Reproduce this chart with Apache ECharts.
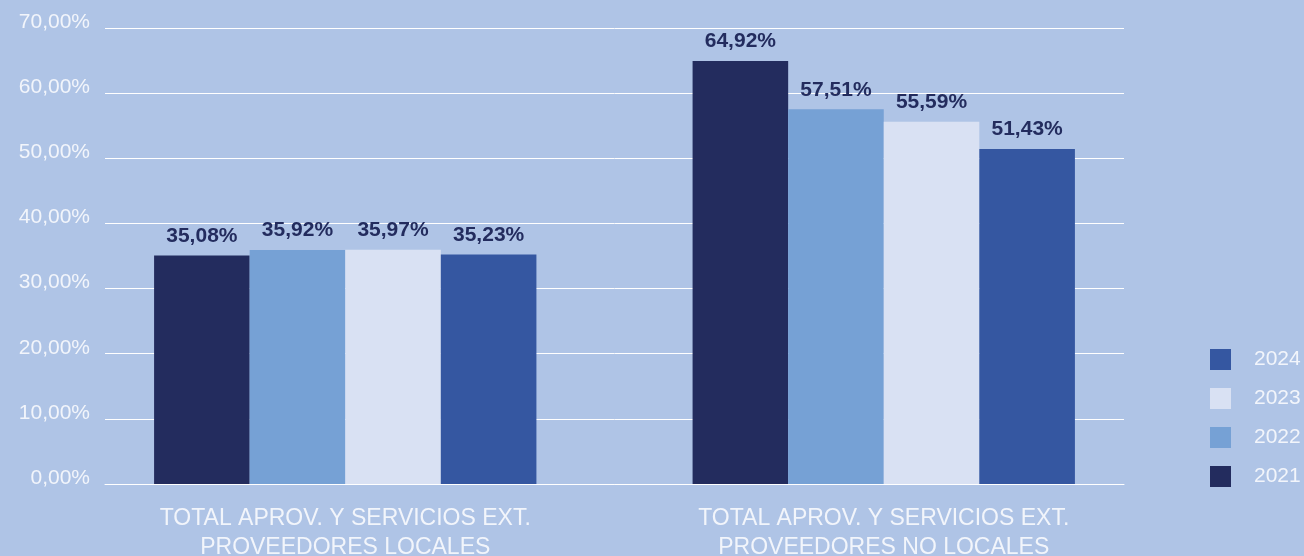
<!DOCTYPE html>
<html>
<head>
<meta charset="utf-8">
<script src="https://cdn.jsdelivr.net/npm/echarts@6/dist/echarts.min.js"></script>
<style>
html,body{margin:0;padding:0;background:#afc4e6;}
#chart{width:1304px;height:556px;}
</style>
</head>
<body>
<div id="chart"></div>
<script>
const categories = ["TOTAL APROV. Y SERVICIOS EXT.\nPROVEEDORES LOCALES", "TOTAL APROV. Y SERVICIOS EXT.\nPROVEEDORES NO LOCALES"];
const years = ["2021", "2022", "2023", "2024"];
const values2021 = [35.08, 64.92];
const values2022 = [35.92, 57.51];
const values2023 = [35.97, 55.59];
const values2024 = [35.23, 51.43];
const legendOrder = ["2024", "2023", "2022", "2021"];
const colors = {"2021": "#232c5e", "2022": "#76a1d5", "2023": "#d9e1f3", "2024": "#3557a1"};

const seriesValues = [values2021, values2022, values2023, values2024];
const fmt = v => v.toFixed(2).replace('.', ',') + '%';
const FONT = "'Liberation Sans', Arial, Helvetica, sans-serif";

const chart = echarts.init(document.getElementById('chart'));
chart.setOption({
  backgroundColor: '#afc4e6',
  animation: false,
  textStyle: {fontFamily: FONT},
  grid: [
    {left: 105, right: 180, top: 28, bottom: 72, containLabel: false, outerBoundsMode: 'none'},
    {left: 76, right: 151, top: 28, bottom: 72, containLabel: false, outerBoundsMode: 'none'}
  ],
  xAxis: [
    {gridIndex: 0, type: 'category', data: ['', ''], axisLine: {show: true, lineStyle: {color: '#ffffff', width: 1}},
     axisTick: {show: false}, axisLabel: {show: false}},
    {gridIndex: 1, type: 'category', data: categories, axisLine: {show: false}, axisTick: {show: false},
     axisLabel: {color: '#f2f5fb', fontSize: 23, lineHeight: 29, margin: 20, fontFamily: FONT}}
  ],
  yAxis: [
    {gridIndex: 0, type: 'value', min: 0, max: 70, interval: 10,
     axisLine: {show: false}, axisTick: {show: false},
     splitLine: {show: true, lineStyle: {color: '#ffffff', width: 1}},
     axisLabel: {color: '#f2f5fb', fontSize: 21, margin: 15, formatter: v => fmt(v), fontFamily: FONT,
                 verticalAlign: 'bottom', lineHeight: 12}},
    {gridIndex: 1, type: 'value', min: 0, max: 70, interval: 10, show: false, splitLine: {show: false}}
  ],
  legend: {
    orient: 'vertical', left: 1205, top: 344, itemWidth: 21, itemHeight: 21, itemGap: 18,
    data: legendOrder, icon: 'rect',
    textStyle: {color: '#f2f5fb', fontSize: 21, fontFamily: FONT, padding: [0, 0, 0, 18]}
  },
  series: years.map((y, i) => ({
    name: y, type: 'bar', xAxisIndex: 1, yAxisIndex: 1,
    data: seriesValues[i], barGap: '0%', barCategoryGap: '29%',
    itemStyle: {color: colors[y]},
    label: {show: true, position: 'top', distance: 9, formatter: p => fmt(p.value),
            color: '#232c5e', fontSize: 21, fontWeight: 'bold', fontFamily: FONT}
  }))
});
</script>
</body>
</html>
